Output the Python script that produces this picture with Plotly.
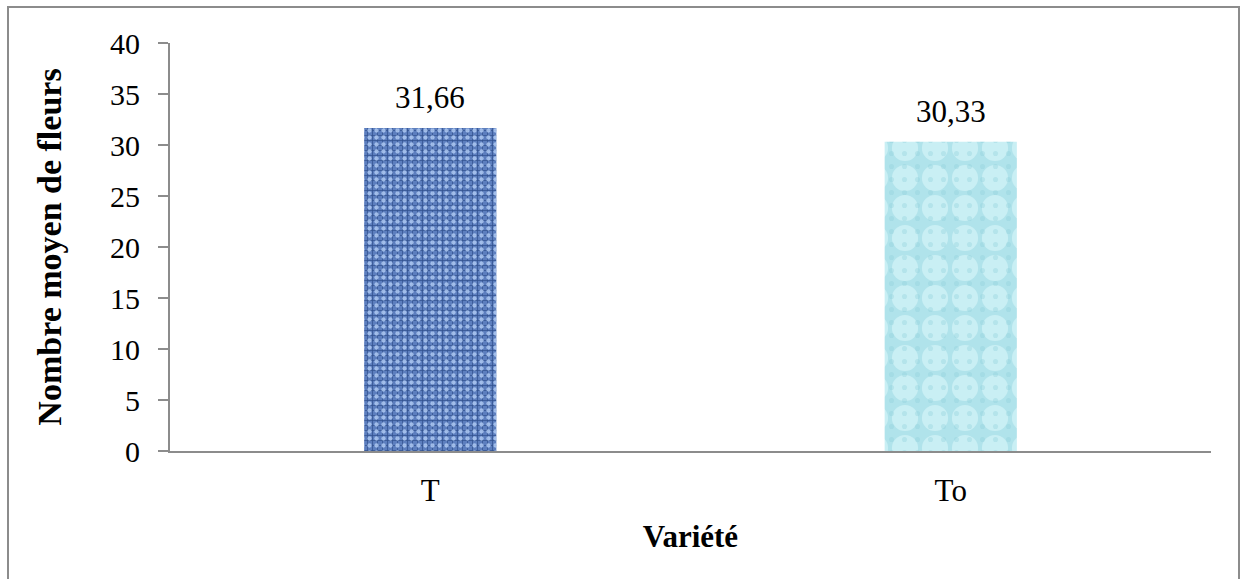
import plotly.graph_objects as go

# Mean number of flowers per variety
varietes = ["T", "To"]
nombre_moyen = [31.66, 30.33]
y_ticks = [0, 5, 10, 15, 20, 25, 30, 35, 40]

W, H = 1241, 579
L, R, T, B = 170, 30, 43, 128
plot_w, plot_h = W - L - R, H - T - B

font_fam = "Liberation Serif, Times New Roman, serif"
axis_col = "#8c8c8c"

# Each bar is a base fill plus a second transparent layer carrying extra texture
textures = [
    dict(base="#5c7ebe",
         p1=dict(shape="+", fgcolor="#33528f", size=5, solidity=0.28),
         p2=dict(shape=".", fgcolor="rgba(180,206,246,0.8)", size=7, solidity=0.3)),
    dict(base="#b0e3eb",
         p1=dict(shape=".", fgcolor="#c9eff4", size=30, solidity=0.6),
         p2=dict(shape=".", fgcolor="rgba(140,206,218,0.35)", size=13, solidity=0.12)),
]

fig = go.Figure()

for cat, val, tex in zip(varietes, nombre_moyen, textures):
    fig.add_trace(go.Bar(
        x=[cat], y=[val],
        marker=dict(color=tex["base"], line=dict(width=0),
                    pattern=dict(bgcolor=tex["base"], fillmode="replace", **tex["p1"])),
        hoverinfo="skip",
    ))
    fig.add_trace(go.Bar(
        x=[cat], y=[val],
        marker=dict(color="rgba(0,0,0,0)", line=dict(width=0),
                    pattern=dict(bgcolor="rgba(0,0,0,0)", fillmode="replace", **tex["p2"])),
        hoverinfo="skip",
    ))

# Value labels above the bars, French decimal comma
for cat, val in zip(varietes, nombre_moyen):
    fig.add_annotation(
        x=cat, y=val, text=f"{val:.2f}".replace(".", ","),
        showarrow=False, yanchor="bottom", yshift=11,
        font=dict(family=font_fam, size=31, color="#000000"),
    )

# Outer frame of the chart area
def px_x(p):
    return (p - L) / plot_w

def px_y(p):
    return (H - B - p) / plot_h

fig.add_shape(
    type="rect", xref="paper", yref="paper",
    x0=px_x(8), x1=px_x(1239), y0=px_y(7), y1=px_y(590),
    line=dict(color=axis_col, width=2), fillcolor="rgba(0,0,0,0)",
    layer="below",
)

fig.update_layout(
    width=W, height=H,
    margin=dict(l=L, r=R, t=T, b=B, pad=0),
    paper_bgcolor="white", plot_bgcolor="white",
    showlegend=False,
    barmode="overlay",
    bargap=0.746,
    font=dict(family=font_fam, size=30, color="#000000"),
    xaxis=dict(
        type="category",
        showline=True, linecolor=axis_col, linewidth=2,
        ticks="", showgrid=False, zeroline=False,
        tickfont=dict(family=font_fam, size=31),
        ticklabelstandoff=11,
        title=dict(text="<b>Variété</b>", standoff=18,
                   font=dict(family=font_fam, size=31)),
    ),
    yaxis=dict(
        range=[0, 40],
        tickvals=y_ticks,
        showline=True, linecolor=axis_col, linewidth=2,
        ticks="outside", ticklen=10, tickcolor=axis_col, tickwidth=2,
        showgrid=False, zeroline=False,
        tickfont=dict(family=font_fam, size=30),
        ticklabelstandoff=12,
        title=dict(text="<b>Nombre moyen de fleurs</b>", standoff=38,
                   font=dict(family=font_fam, size=34)),
    ),
)

fig.write_html("out.html")
